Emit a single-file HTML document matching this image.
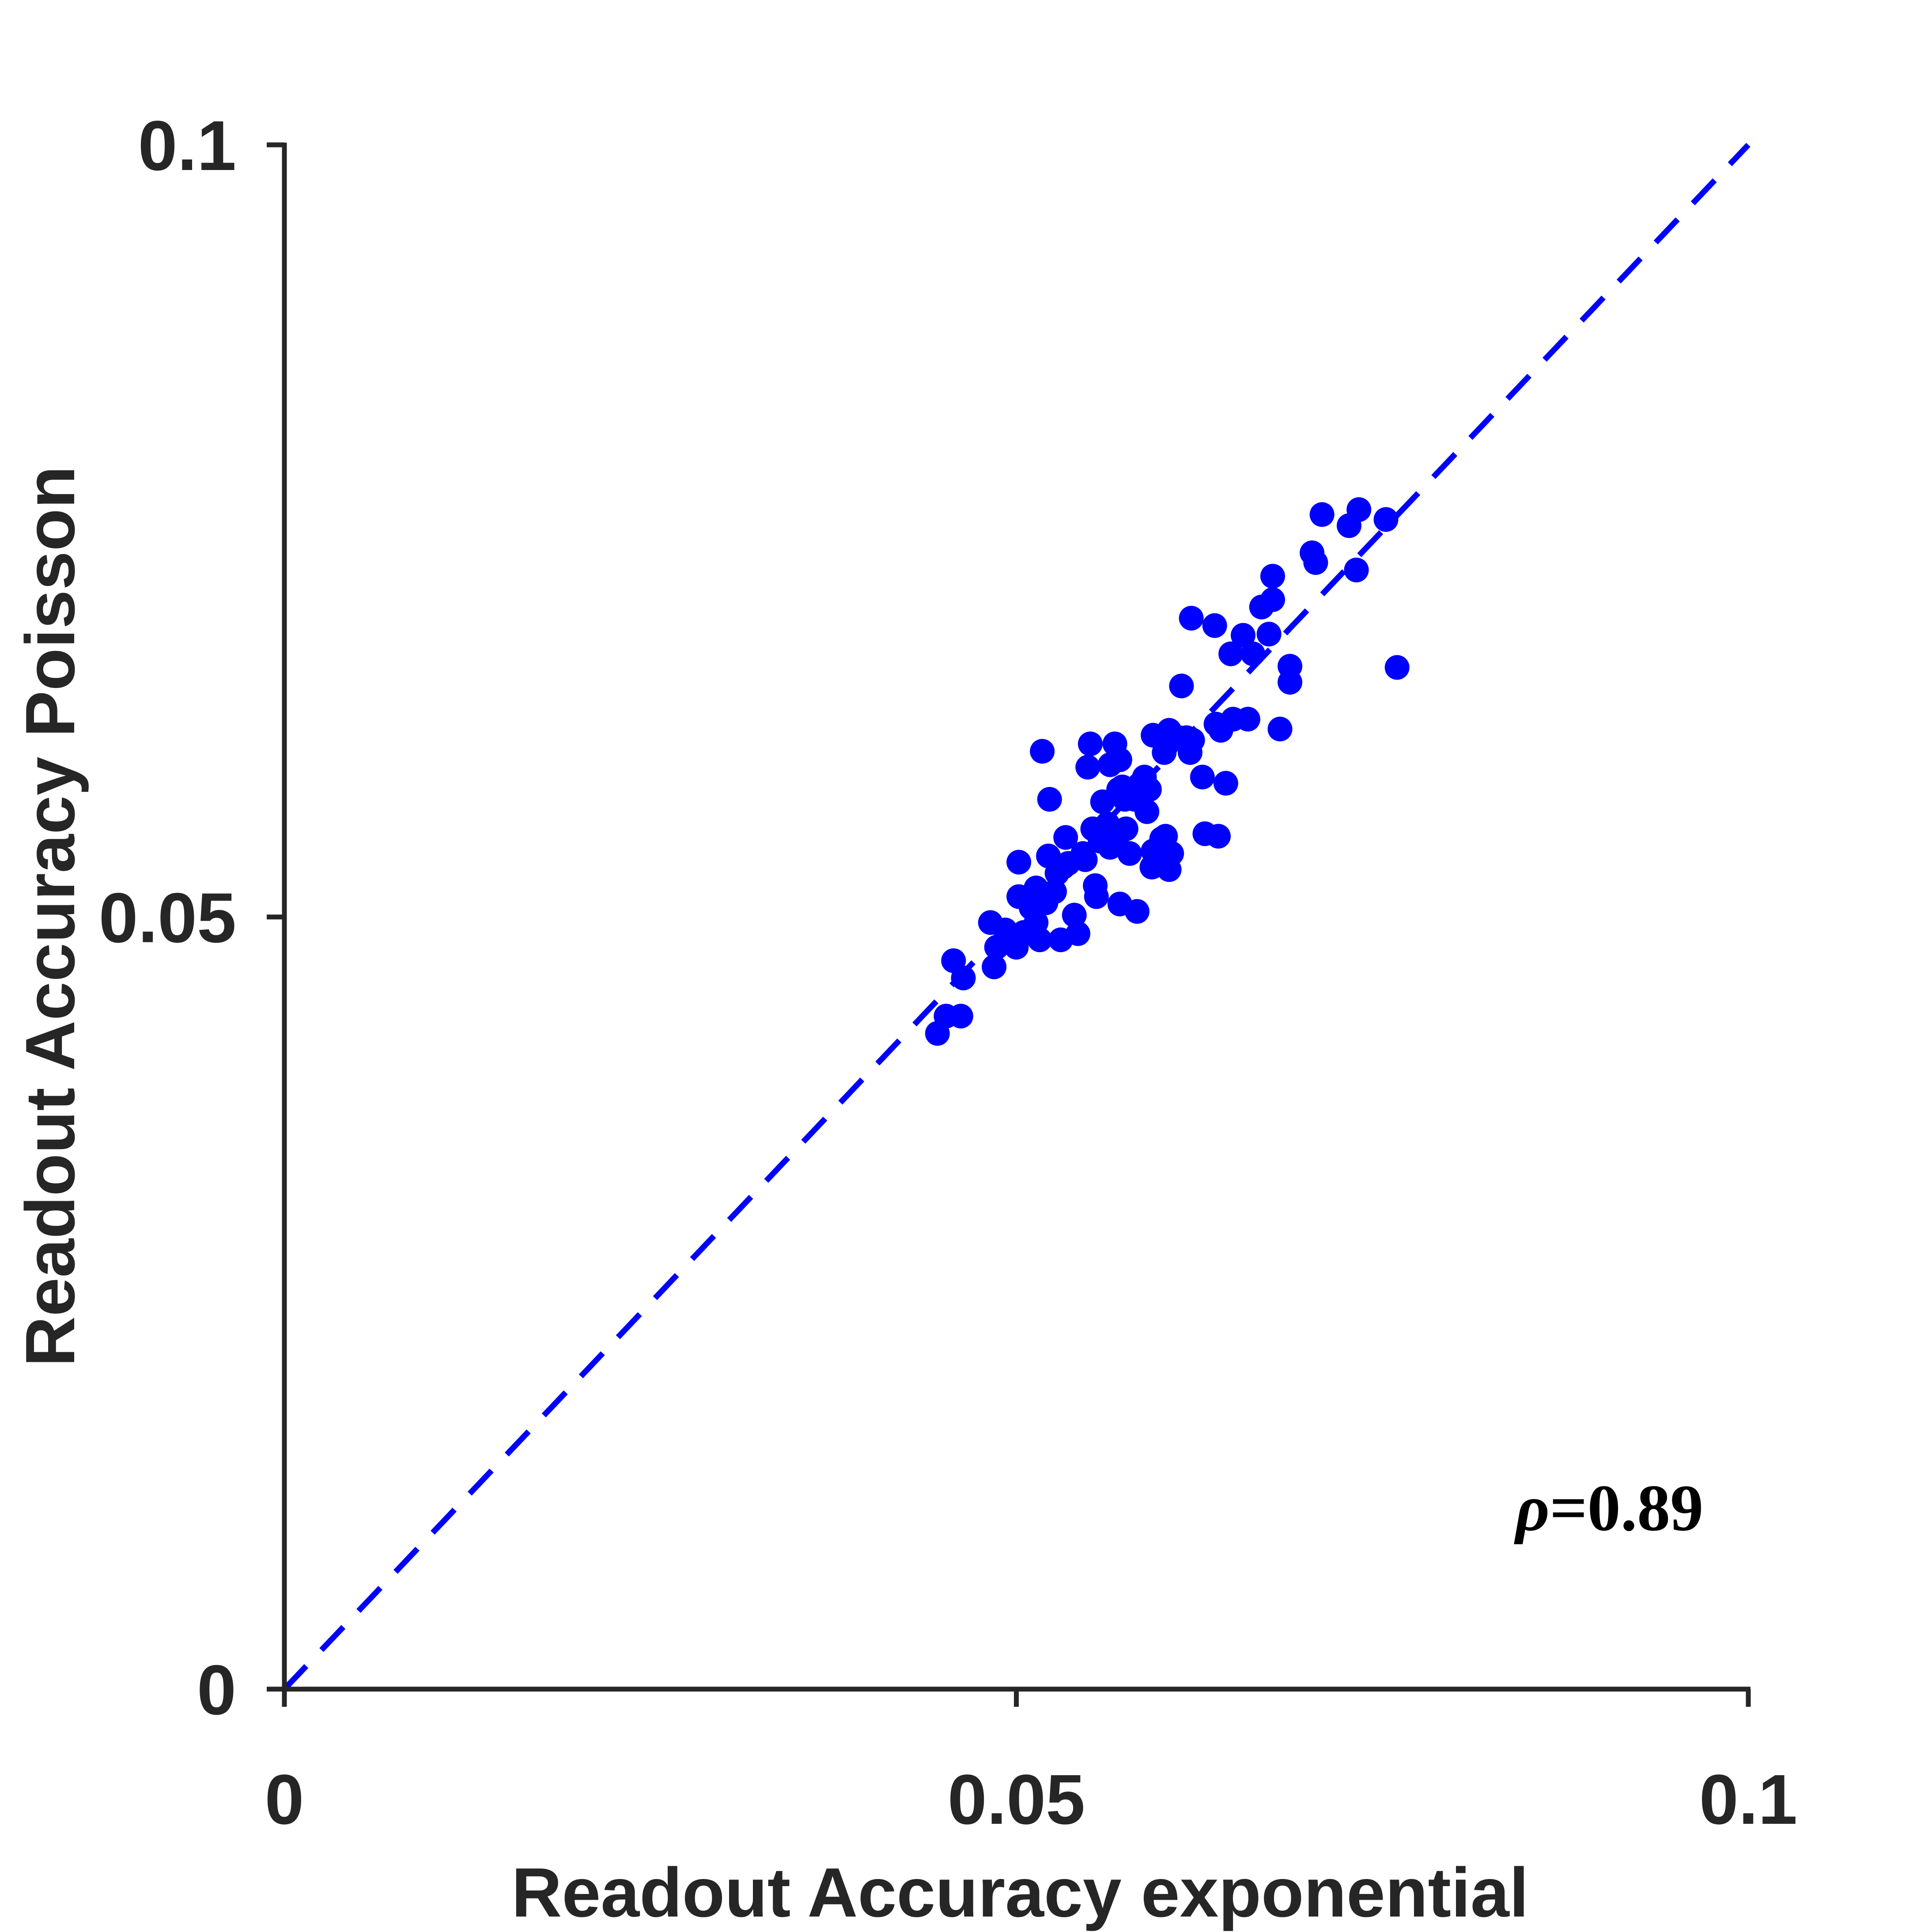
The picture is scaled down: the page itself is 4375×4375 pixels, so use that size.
<!DOCTYPE html>
<html><head><meta charset="utf-8"><style>
html,body{margin:0;padding:0;background:#fff}
svg{display:block}
text{font-family:"Liberation Sans",sans-serif;fill:#262626}
</style></head><body>
<svg id="chart" width="4375" height="4375" viewBox="0 0 4375 4375" xmlns="http://www.w3.org/2000/svg">
<g id="plot"></g>
</svg>
<script>
const xVals = [44.61,45.20,46.21,45.71,46.38,48.23,48.48,48.65,49.24,50.00,50.17,50.17,50.51,51.01,51.35,51.35,51.60,51.77,52.02,52.19,52.27,52.61,52.78,53.03,53.20,53.37,53.54,53.96,54.21,54.55,54.71,54.88,55.05,55.22,55.39,55.47,55.72,55.89,56.06,56.23,56.40,56.40,56.57,56.73,56.90,56.99,57.07,57.07,57.24,57.41,57.49,57.58,57.74,58.08,58.25,58.42,58.75,58.92,59.09,59.26,59.34,59.34,59.93,60.10,60.19,60.44,60.44,60.61,61.11,61.28,61.62,61.87,61.95,62.04,62.71,62.88,63.55,63.64,63.80,63.97,64.31,64.65,64.81,65.49,65.82,66.16,66.75,67.26,67.51,67.51,68.01,68.69,68.69,70.20,70.45,70.88,72.73,73.23,73.40,75.25,76.01];
const yVals = [42.46,43.58,43.58,47.17,46.05,49.64,46.77,48.04,49.16,48.04,53.55,51.32,49.00,50.60,51.88,49.64,48.52,60.73,50.92,53.95,57.62,51.64,52.83,48.52,53.23,55.15,53.47,50.12,48.92,54.11,53.71,59.70,61.21,55.71,52.03,51.32,54.91,57.46,55.39,56.03,59.86,54.51,54.67,61.21,55.23,58.26,60.18,50.84,58.42,57.62,55.71,58.02,54.11,57.62,50.36,58.58,59.06,56.82,58.26,53.23,54.27,61.77,55.07,60.65,55.23,62.09,53.07,54.11,61.61,64.96,61.61,60.65,69.35,61.45,59.06,55.39,68.87,62.49,55.23,62.09,58.66,67.04,62.81,68.24,62.81,67.04,70.07,68.32,72.07,70.55,62.17,66.24,65.20,73.58,72.95,76.06,75.34,72.47,76.38,75.74,66.16];
const tickVals = [0, 0.05, 0.1];
const tickLabels = ["0", "0.05", "0.1"];
const rhoSymbol = "ρ";
const rhoValue = "=0.89";

const NS = "http://www.w3.org/2000/svg";
const X0 = 644, X1 = 3959, Y0 = 3825, Y1 = 328;
const xs = v => X0 + (v / 0.1) * (X1 - X0);
const ys = v => Y0 - (v / 0.1) * (Y0 - Y1);
const g = document.getElementById('plot');
function mk(tag, attrs, parent) {
  const e = document.createElementNS(NS, tag);
  for (const k in attrs) e.setAttribute(k, attrs[k]);
  (parent || g).appendChild(e);
  return e;
}
const AX = "#262626";
let l = mk('line', {x1: xs(0), y1: ys(0), x2: xs(0.1), y2: ys(0.1), stroke: "#0000ff", "stroke-width": 13, "stroke-dasharray": "72 50"});


let ax = mk('line', {x1: X0 - 5, y1: Y0, x2: X1 + 5, y2: Y0, stroke: AX, "stroke-width": 11});


let ay = mk('line', {x1: X0, y1: Y0 + 5, x2: X0, y2: Y1 - 5, stroke: AX, "stroke-width": 11});


tickVals.forEach((t, i) => {
  let tx = mk('line', {x1: xs(t), y1: Y0, x2: xs(t), y2: Y0 + 40, stroke: AX, "stroke-width": 11});
  
  
  let lx = mk('text', {x: xs(t), y: 4130, "text-anchor": "middle", "font-size": 160, "font-weight": "bold"});
  lx.textContent = tickLabels[i];
  
  
  let ty = mk('line', {x1: X0 - 40, y1: ys(t), x2: X0, y2: ys(t), stroke: AX, "stroke-width": 11});
  
  
  let ly = mk('text', {x: 535, y: ys(t) + 57, "text-anchor": "end", "font-size": 160, "font-weight": "bold"});
  ly.textContent = tickLabels[i];
  
  
});
xVals.forEach((xv, i) => {
  const c = mk('circle', {cx: xs(xv / 1000), cy: ys(yVals[i] / 1000), r: 28, fill: "#0000ff"});
  
  
});
let xt = mk('text', {x: 2310, y: 4340, "text-anchor": "middle", "font-size": 158, "font-weight": "bold"});
xt.textContent = "Readout Accuracy exponential";


let yt = mk('text', {x: 0, y: 0, "text-anchor": "middle", "font-size": 158, "font-weight": "bold", transform: "translate(168,2075) rotate(-90)"});
yt.textContent = "Readout Accuracy Poisson";


let rt = mk('text', {x: 3432, y: 3465, "font-size": 150, "font-weight": "bold", style: "font-family:'Liberation Serif',serif;fill:#000"});


let rs = mk('tspan', {style: "font-style:italic"}, rt);
rs.textContent = rhoSymbol;


let rv = mk('tspan', {}, rt);
rv.textContent = rhoValue;


</script>
</body></html>
